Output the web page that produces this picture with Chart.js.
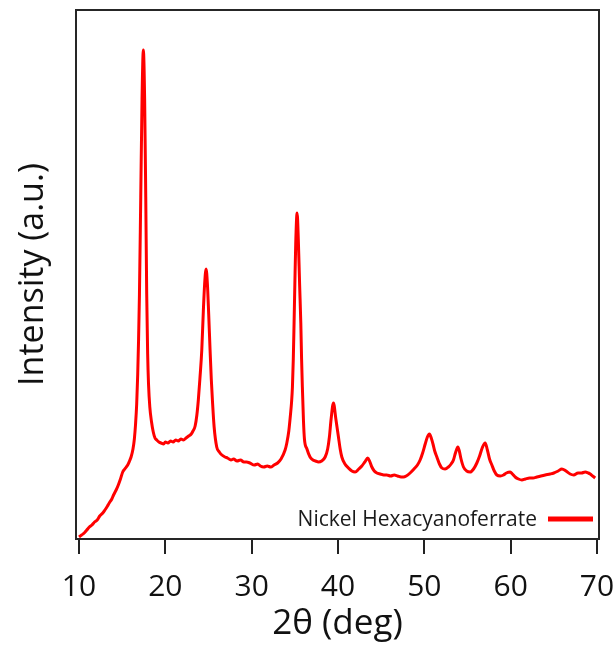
<!DOCTYPE html>
<html><head><meta charset="utf-8">
<script src="https://cdn.jsdelivr.net/npm/chart.js@4/dist/chart.umd.min.js"></script>
<style>html,body{margin:0;padding:0;background:#fff}#wrap{width:616px;height:645px}</style>
</head><body><div id="wrap"><canvas id="c" width="616" height="645"></canvas></div>
<script>
const seriesLabel = 'Nickel Hexacyanoferrate';
const xTitle = '2θ (deg)';
const yTitle = 'Intensity (a.u.)';
const xTicks = [10, 20, 30, 40, 50, 60, 70];

const twoTheta = [
10.0,10.3,10.6,10.9,11.2,11.5,11.8,12.1,12.4,12.75,13.0,13.3,13.5,13.8,14.0,14.3,14.55,14.8,15.06,15.3,15.64,15.85,16.03,16.25,16.41,16.55,16.68,16.8,16.9,17.0,17.15,17.3,17.45,17.6,17.73,17.84,17.95,18.05,18.2,18.4,18.6,18.8,19.0,19.25,19.5,19.8,20.0,20.3,20.6,20.9,21.2,21.5,21.8,22.1,22.4,22.7,23.0,23.2,23.45,23.65,23.82,24.0,24.22,24.4,24.55,24.72,24.87,25.02,25.18,25.32,25.45,25.65,25.95,26.25,26.55,26.9,27.2,27.6,27.9,28.3,28.7,29.1,29.4,29.8,30.3,30.7,31.0,31.4,31.8,32.2,32.6,33.0,33.4,33.87,34.07,34.3,34.5,34.62,34.72,34.82,34.91,35.0,35.1,35.26,35.4,35.55,35.69,35.78,35.87,36.0,36.11,36.4,36.76,37.1,37.4,37.73,38.1,38.51,38.8,39.0,39.2,39.47,39.75,40.05,40.25,40.44,40.8,41.21,41.6,41.98,42.4,42.76,43.1,43.45,43.7,43.92,44.2,44.5,44.9,45.3,45.65,46.1,46.5,46.9,47.3,47.58,47.9,48.35,48.8,49.2,49.51,49.8,50.1,50.35,50.59,50.8,51.0,51.2,51.45,51.75,52.03,52.4,52.79,53.1,53.37,53.6,53.88,54.05,54.25,54.53,54.9,55.31,55.7,56.08,56.4,56.7,57.05,57.3,57.55,57.82,58.1,58.4,58.8,59.17,59.5,59.94,60.2,60.52,60.9,61.3,61.7,62.2,62.6,63.04,63.5,64.0,64.58,65.0,65.5,65.93,66.4,66.89,67.3,67.8,68.2,68.63,69.0,69.21,69.5,69.79
];
const intensity = [
2,4,6,9,12,14,17,19,23,26,29,33,36,40,44,49,54,60,67,70,74,78,82,90,100,115,135,165,200,245,342,440,489,440,342,245,185,155,132,117,107,101,99,97,96,95,97,96,98,97,99,98,100,99,101,103,105,108,113,124,139,160,189,228,255,270,255,225,189,160,139,112,92,87,84,82,81,79,80,78,79,77,77,76,74,75,73,72,73,72,74,76,80,89,96,108,125,137,152,180,216,255,295,326,300,255,216,180,152,118,100,90,82,79,78,77,78,82,90,102,120,136,120,102,90,82,75,71,68,67,70,73,77,81,77,72,68,66,65,64,64,63,64,63,62,62,63,66,70,74,79,86,95,102,105,101,95,88,82,75,71,70,72,75,79,86,92,88,80,72,68,67,70,76,83,91,96,89,80,74,68,64,63,64,66,67,65,62,60,59,60,61,61,62,63,64,65,66,68,70,68,65,64,66,66,67,66,65,63,61
];

const FONT = "'Open Sans', 'DejaVu Sans', sans-serif";

const framePlugin = {
  id: 'frame',
  beforeDatasetsDraw(chart) {
    const {ctx, chartArea: a} = chart;
    ctx.save();
    ctx.strokeStyle = '#262626';
    ctx.lineWidth = 2;
    ctx.strokeRect(a.left, a.top, a.right - a.left, a.bottom - a.top);
    ctx.restore();
  }
};

const legendPlugin = {
  id: 'insideLegend',
  afterDraw(chart) {
    const {ctx} = chart;
    const ds = chart.data.datasets[0];
    ctx.save();
    ctx.font = "21px " + FONT;
    ctx.fillStyle = '#1a1a1a';
    ctx.textAlign = 'right';
    ctx.textBaseline = 'middle';
    ctx.fillText(ds.label, 537, 520);
    ctx.strokeStyle = ds.borderColor;
    ctx.lineWidth = 5;
    ctx.beginPath();
    ctx.moveTo(548, 519);
    ctx.lineTo(593, 519);
    ctx.stroke();
    ctx.restore();
  }
};

new Chart(document.getElementById('c'), {
  type: 'line',
  data: {
    datasets: [{
      label: seriesLabel,
      data: twoTheta.map((x, i) => ({x, y: intensity[i]})),
      borderColor: '#ff0000',
      borderWidth: 3,
      pointRadius: 0,
      fill: false,
      cubicInterpolationMode: 'monotone'
    }]
  },
  options: {
    responsive: false,
    devicePixelRatio: 1,
    animation: false,
    layout: {padding: {left: 0, right: 17, top: 10, bottom: 0}},
    plugins: {legend: {display: false}, tooltip: {enabled: false}},
    scales: {
      x: {
        type: 'linear',
        min: 9.65, max: 70.23,
        afterBuildTicks: s => { s.ticks = xTicks.map(v => ({value: v})); },
        afterFit: s => { s.height = 106; s.paddingLeft = 0; s.paddingRight = 0; },
        border: {display: false},
        grid: {drawOnChartArea: false, drawTicks: true, tickLength: 15, lineWidth: 2, color: '#222'},
        ticks: {font: {family: FONT, size: 30}, color: '#111', padding: 15, maxRotation: 0, autoSkip: false},
        title: {display: true, text: xTitle, font: {family: FONT, size: 35}, color: '#111', padding: {top: 1, bottom: 0}}
      },
      y: {
        type: 'linear',
        min: 0, max: 529,
        afterFit: s => { s.width = 76; },
        border: {display: false},
        grid: {display: false},
        ticks: {display: false},
        title: {display: true, text: yTitle, font: {family: FONT, size: 34}, color: '#111', padding: {top: 13, bottom: 0}}
      }
    }
  },
  plugins: [framePlugin, legendPlugin]
});
</script>
</body></html>
